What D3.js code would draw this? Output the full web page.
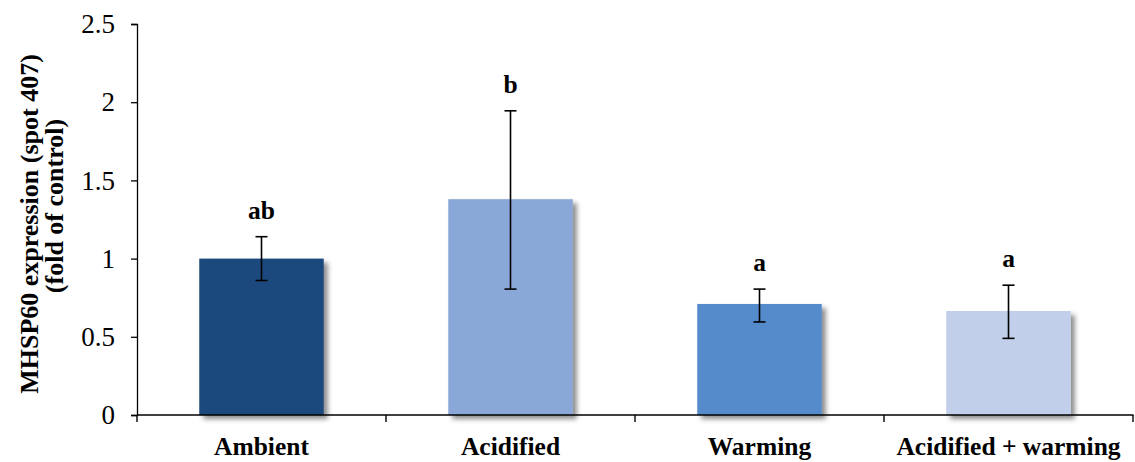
<!DOCTYPE html>
<html>
<head>
<meta charset="utf-8">
<script src="https://cdn.jsdelivr.net/npm/d3@7"></script>
<style>
  html, body { margin: 0; padding: 0; background: #fff; }
  svg { display: block; }
  text { font-family: "Liberation Serif", "Times New Roman", serif; fill: #000; }
</style>
</head>
<body>
<svg id="chart" width="1135" height="462"></svg>
<script>
// Treatment groups and their mean expression (fold of control)
const categories = ["Ambient", "Acidified", "Warming", "Acidified + warming"];
const means      = [1.00, 1.38, 0.71, 0.665];
const errUpper   = [1.14, 1.945, 0.805, 0.83];
const errLower   = [0.86, 0.805, 0.595, 0.49];
const letters    = ["ab", "b", "a", "a"];
const barColors  = ["#1F497D", "#8AA8D7", "#558ACB", "#C1CFEA"];
const yTicks     = [0, 0.5, 1, 1.5, 2, 2.5];
const yTickLabels = ["0", "0.5", "1", "1.5", "2", "2.5"];

const svg = d3.select("#chart");
const margin = { left: 137, right: 2, top: 24, bottom: 47 };
const W = 1135, H = 462;

const x = d3.scaleBand()
  .domain(categories)
  .range([margin.left, W - margin.right])
  .paddingInner(0.5)
  .paddingOuter(0.25);

const y = d3.scaleLinear()
  .domain([0, 2.5])
  .range([H - margin.bottom, margin.top]);

// soft drop shadow behind each bar
const defs = svg.append("defs");
const f = defs.append("filter").attr("id", "shadow")
  .attr("x", "-10%").attr("y", "-10%").attr("width", "130%").attr("height", "130%");
f.append("feDropShadow")
  .attr("dx", 4).attr("dy", 4)
  .attr("stdDeviation", 2.5)
  .attr("flood-color", "#000")
  .attr("flood-opacity", 0.45);

// bars
svg.append("g").selectAll("rect")
  .data(categories)
  .join("rect")
  .attr("x", d => x(d))
  .attr("width", x.bandwidth())
  .attr("y", (d, i) => y(means[i]))
  .attr("height", (d, i) => y(0) - y(means[i]))
  .attr("fill", (d, i) => barColors[i])
  .attr("filter", "url(#shadow)");

// y axis
const yAxis = d3.axisLeft(y)
  .tickValues(yTicks)
  .tickFormat((d, i) => yTickLabels[i])
  .tickSizeOuter(0)
  .tickSize(6)
  .tickPadding(16);
const gy = svg.append("g")
  .attr("transform", `translate(${margin.left},0)`)
  .call(yAxis);
gy.select(".domain").attr("stroke", "#000").attr("stroke-width", 1.3);
gy.selectAll(".tick line").attr("stroke", "#000").attr("stroke-width", 1.3);
gy.selectAll(".tick text")
  .attr("font-size", 27)
  .style("font-family", '"Liberation Serif", "Times New Roman", serif');

// x axis: line with tick marks at category boundaries
const x0 = margin.left, x1 = W - margin.right;
const gx = svg.append("g");
gx.append("line")
  .attr("x1", x0).attr("x2", x1 + 0.5)
  .attr("y1", y(0)).attr("y2", y(0))
  .attr("stroke", "#000").attr("stroke-width", 1.6);
const step = x.step();
const bounds = d3.range(categories.length + 1).map(i => x(categories[0]) - x.step() * x.paddingOuter() + i * step);
gx.selectAll("line.tk")
  .data(bounds)
  .join("line")
  .attr("class", "tk")
  .attr("x1", d => d).attr("x2", d => d)
  .attr("y1", y(0)).attr("y2", y(0) + 7)
  .attr("stroke", "#000").attr("stroke-width", 1.4);

// category labels
gx.selectAll("text.cat")
  .data(categories)
  .join("text")
  .attr("class", "cat")
  .attr("x", d => x(d) + x.bandwidth() / 2)
  .attr("y", 455)
  .attr("text-anchor", "middle")
  .attr("font-size", 25.5)
  .attr("font-weight", "bold")
  .text(d => d);

// error bars
const eb = svg.append("g").attr("stroke", "#000").attr("stroke-width", 1.6);
categories.forEach((c, i) => {
  const cx = x(c) + x.bandwidth() / 2;
  eb.append("line").attr("x1", cx).attr("x2", cx)
    .attr("y1", y(errUpper[i])).attr("y2", y(errLower[i]));
  [errUpper[i], errLower[i]].forEach(v => {
    eb.append("line").attr("x1", cx - 6).attr("x2", cx + 6)
      .attr("y1", y(v)).attr("y2", y(v));
  });
});

// significance letters
svg.append("g").selectAll("text")
  .data(categories)
  .join("text")
  .attr("x", d => x(d) + x.bandwidth() / 2)
  .attr("y", (d, i) => y(errUpper[i]) - 18)
  .attr("text-anchor", "middle")
  .attr("font-size", 25.5)
  .attr("font-weight", "bold")
  .text((d, i) => letters[i]);

// y axis title (two lines)
const title = svg.append("text")
  .attr("transform", "translate(0,220) rotate(-90)")
  .attr("text-anchor", "middle")
  .attr("font-size", 26)
  .attr("font-weight", "bold");
title.append("tspan").attr("x", -4).attr("y", 38).text("MHSP60 expression (spot 407)");
title.append("tspan").attr("x", 14).attr("y", 63).text("(fold of control)");
</script>
</body>
</html>
